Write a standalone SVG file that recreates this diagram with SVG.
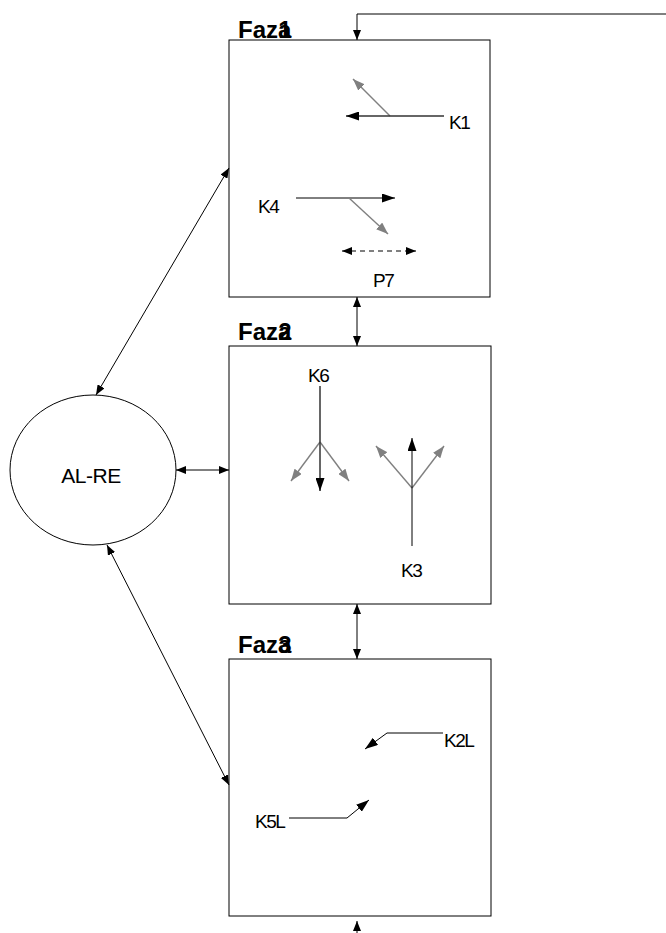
<svg xmlns="http://www.w3.org/2000/svg" width="666" height="933" viewBox="0 0 666 933">
<style>
.box{fill:#fff;stroke:#000;stroke-width:1}
.ln{fill:none;stroke:#000;stroke-width:1}
.ln2{fill:none;stroke:#333;stroke-width:1.5}
.gr{fill:none;stroke:#808080;stroke-width:1.4}
.ttl{font-family:"Liberation Sans",Arial,sans-serif;font-weight:bold;font-size:24px;fill:#000}
.lbl{font-family:"Liberation Sans",Arial,sans-serif;font-size:19px;fill:#000;letter-spacing:-1.5px}
</style>
<defs>
<marker id="ah" markerWidth="10" markerHeight="8" refX="10" refY="4" orient="auto" markerUnits="userSpaceOnUse"><path d="M0,0 L10,4 L0,8 Z" fill="#000"/></marker>
<marker id="ahs" markerWidth="10" markerHeight="8" refX="0" refY="4" orient="auto" markerUnits="userSpaceOnUse"><path d="M10,0 L0,4 L10,8 Z" fill="#000"/></marker>
<marker id="ag" markerWidth="12" markerHeight="9" refX="12" refY="4.5" orient="auto" markerUnits="userSpaceOnUse"><path d="M0,0 L12,4.5 L0,9 Z" fill="#808080"/></marker>
<marker id="ab" markerWidth="13" markerHeight="9" refX="13" refY="4.5" orient="auto" markerUnits="userSpaceOnUse"><path d="M0,0 L13,4.5 L0,9 Z" fill="#000"/></marker>
</defs>

<g id="faza1">
<rect class="box" x="229" y="40" width="261" height="257"/>
<text class="ttl" x="238" y="38">Faza<tspan dx="-13">1</tspan></text>
<g id="k1">
<line class="gr" x1="390" y1="116" x2="353" y2="79" marker-end="url(#ag)"/>
<line class="ln2" x1="444" y1="116" x2="346" y2="116" marker-end="url(#ab)"/>
<text class="lbl" x="449" y="129">K1</text>
</g>
<g id="k4">
<text class="lbl" x="258" y="213">K4</text>
<line class="ln" x1="296" y1="198" x2="395" y2="198" marker-end="url(#ab)"/>
<line class="gr" x1="349" y1="198" x2="388" y2="234" marker-end="url(#ag)"/>
</g>
<g id="p7">
<line class="ln" x1="342" y1="251" x2="416" y2="251" stroke-dasharray="5,4" marker-start="url(#ahs)" marker-end="url(#ah)"/>
<text class="lbl" x="373" y="287">P7</text>
</g>
</g>

<g id="faza2">
<rect class="box" x="229" y="346" width="262" height="258"/>
<text class="ttl" x="238" y="340">Faza<tspan dx="-13">2</tspan></text>
<g id="k6">
<text class="lbl" x="308" y="382">K6</text>
<line class="gr" x1="320" y1="442" x2="291" y2="481" marker-end="url(#ag)"/>
<line class="gr" x1="320" y1="442" x2="349" y2="481" marker-end="url(#ag)"/>
<line class="ln2" x1="320" y1="386" x2="320" y2="491" marker-end="url(#ab)"/>
</g>
<g id="k3">
<line class="gr" x1="412" y1="488" x2="376" y2="446" marker-end="url(#ag)"/>
<line class="gr" x1="412" y1="488" x2="444" y2="446" marker-end="url(#ag)"/>
<line class="ln" x1="412" y1="546" x2="412" y2="438" marker-end="url(#ab)"/>
<text class="lbl" x="401" y="577">K3</text>
</g>
</g>

<g id="faza3">
<rect class="box" x="229" y="659" width="262" height="257"/>
<text class="ttl" x="238" y="653">Faza<tspan dx="-13">3</tspan></text>
<g id="k2l">
<polyline class="ln" points="443,733 387,733 365,749" marker-end="url(#ab)"/>
<text class="lbl" x="444" y="747">K2L</text>
</g>
<g id="k5l">
<polyline class="ln" points="289,818 347,818 369,800" marker-end="url(#ab)"/>
<text class="lbl" x="255" y="828">K5L</text>
</g>
</g>

<g id="alre">
<ellipse class="box" cx="93" cy="470" rx="83" ry="75"/>
<text x="91" y="483" text-anchor="middle" font-family="'Liberation Sans',Arial,sans-serif" font-size="21" letter-spacing="-0.5">AL-RE</text>
</g>

<g id="connectors">
<polyline class="ln" points="666,14 357,14 357,40" marker-end="url(#ah)"/>
<line class="ln" x1="357" y1="297" x2="357" y2="346" marker-start="url(#ahs)" marker-end="url(#ah)"/>
<line class="ln" x1="357" y1="604" x2="357" y2="659" marker-start="url(#ahs)" marker-end="url(#ah)"/>
<line class="ln" x1="357" y1="933" x2="357" y2="921" marker-end="url(#ah)"/>
<line class="ln" x1="176" y1="470" x2="229" y2="470" marker-start="url(#ahs)" marker-end="url(#ah)"/>
<line class="ln" x1="96" y1="395" x2="229" y2="168" marker-start="url(#ahs)" marker-end="url(#ah)"/>
<line class="ln" x1="107" y1="545" x2="229" y2="785" marker-start="url(#ahs)" marker-end="url(#ah)"/>
</g>
</svg>
